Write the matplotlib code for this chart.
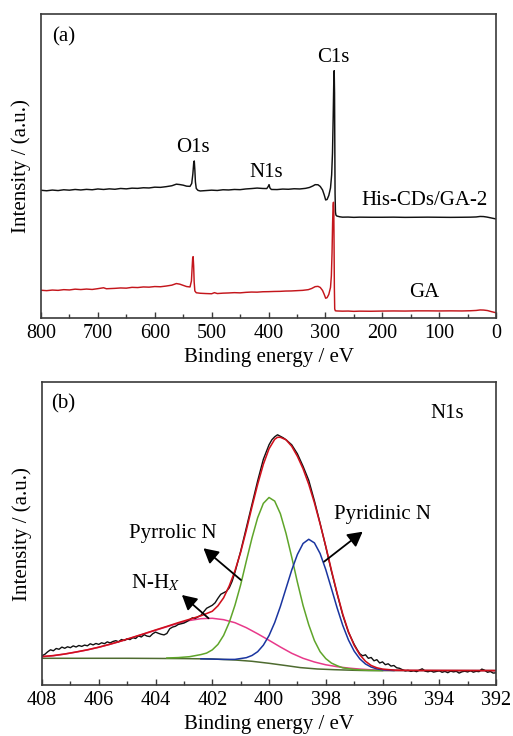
import matplotlib
matplotlib.use("Agg")
import matplotlib.pyplot as plt
from matplotlib.ticker import MultipleLocator

plt.rcParams['font.family'] = ['Liberation Serif', 'DejaVu Serif']
plt.rcParams['mathtext.fontset'] = 'stix'

# ---------------- Panel (a): XPS survey ----------------
survey_his_ev = [800, 790, 780, 770, 760, 750, 740, 730, 720, 710, 700, 690, 680, 670, 660, 650, 640, 630,
                 620, 610, 600, 590, 580, 570, 562, 556, 550, 544, 538, 535, 533, 531.5, 530.5, 529.5, 528.5,
                 527, 524, 520, 510, 500, 490, 480, 470, 460, 450, 440, 430, 420, 410, 403, 400.5, 399, 397.5,
                 395, 385, 375, 365, 355, 345, 335, 328, 322, 318, 313, 309, 305, 302, 299.5, 297, 294, 291,
                 289, 287.5, 286.3, 285.3, 284.5, 283.9, 283.4, 283, 282.3, 281.5, 280, 275, 270, 260, 250,
                 240, 220, 200, 180, 160, 140, 120, 100, 80, 60, 45, 35, 28, 22, 16, 10, 5, 0]
survey_his_int = [127.7, 127.2, 127.9, 127.4, 128.2, 127.8, 128.5, 128.0, 128.6, 128.2, 129.0, 128.5, 129.1,
                  128.7, 129.5, 129.1, 129.8, 129.6, 130.2, 130.0, 130.8, 130.6, 131.3, 132.2, 133.8, 133.4,
                  132.8, 131.8, 131.6, 134.5, 144.0, 155.0, 157.0, 148.0, 136.0, 129.5, 127.6, 127.0, 127.4,
                  127.8, 127.5, 128.2, 128.0, 128.5, 128.3, 129.0, 129.4, 129.9, 129.5, 129.4, 131.5, 133.3,
                  130.0, 128.5, 128.4, 128.9, 128.7, 129.2, 129.0, 129.6, 130.5, 132.0, 133.3, 133.2, 131.5,
                  128.0, 123.0, 118.0, 118.5, 122.5, 130.0, 143.0, 165.0, 200.0, 235.0, 247.3, 225.0, 170.0,
                  125.0, 106.0, 103.0, 102.0, 101.2, 100.8, 100.9, 100.6, 100.8, 100.7, 100.7, 100.8, 100.6,
                  100.7, 100.8, 100.7, 100.6, 100.7, 100.8, 101.0, 101.5, 101.4, 100.9, 100.2, 99.6, 99.0]

survey_ga_ev = [800, 790, 780, 770, 760, 750, 740, 730, 720, 710, 700, 690, 685, 670, 660, 650, 640, 630, 620,
                610, 600, 590, 580, 570, 562, 556, 550, 544, 538, 535.5, 534.3, 533.3, 532.5, 531.6, 530.7,
                529.5, 527, 520, 510, 500, 495, 490, 480, 470, 460, 450, 440, 430, 420, 410, 400, 390, 380,
                370, 360, 350, 340, 330, 324, 318, 313, 309, 305, 302, 299.5, 297, 294, 291, 289.5, 288.3,
                287.3, 286.5, 285.8, 285.2, 284.7, 284.2, 283.6, 282.5, 280, 270, 260, 250, 240, 220, 200,
                180, 160, 140, 120, 100, 80, 60, 45, 35, 28, 22, 15, 8, 0]
survey_ga_int = [27.7, 27.3, 27.9, 27.6, 28.3, 28.0, 28.8, 28.4, 28.9, 28.5, 29.3, 30.2, 29.2, 29.6, 30.0,
                 29.8, 30.6, 30.4, 31.0, 30.8, 31.4, 31.2, 31.9, 32.8, 34.4, 33.8, 32.6, 31.4, 31.0, 37.0,
                 50.0, 60.0, 61.3, 52.0, 36.0, 27.0, 25.2, 24.7, 24.4, 24.2, 25.3, 24.4, 24.8, 25.0, 25.3,
                 25.1, 25.6, 25.9, 25.8, 26.2, 26.3, 26.5, 26.6, 26.9, 27.0, 27.3, 27.6, 28.3, 29.5, 31.3,
                 31.6, 30.5, 27.5, 23.5, 19.7, 20.3, 23.5, 30.5, 42.0, 65.0, 95.0, 112.0, 115.7, 108.0, 70.0,
                 30.0, 9.0, 7.2, 7.0, 6.8, 6.9, 6.6, 6.8, 6.7, 6.9, 7.0, 6.9, 7.1, 7.1, 7.0, 7.1, 7.0, 7.2,
                 7.5, 8.0, 7.9, 7.4, 6.3, 5.2]

# ---------------- Panel (b): N1s high resolution ----------------
n1s_raw_ev = [408.0, 407.9, 407.8, 407.7, 407.6, 407.5, 407.4, 407.3, 407.2, 407.1, 407.0, 406.9, 406.8,
              406.7, 406.6, 406.5, 406.4, 406.3, 406.2, 406.1, 406.0, 405.9, 405.8, 405.7, 405.6, 405.5,
              405.4, 405.3, 405.2, 405.1, 405.0, 404.9, 404.8, 404.7, 404.6, 404.5, 404.4, 404.3, 404.2,
              404.1, 404.0, 403.9, 403.8, 403.7, 403.6, 403.5, 403.4, 403.3, 403.2, 403.1, 403.0, 402.9,
              402.8, 402.7, 402.6, 402.5, 402.4, 402.3, 402.2, 402.1, 402.0, 401.9, 401.8, 401.7, 401.6,
              401.5, 401.4, 401.3, 401.2, 401.0, 400.8, 400.6, 400.4, 400.2, 400.0, 399.9, 399.8, 399.7,
              399.6, 399.5, 399.4, 399.2, 399.0, 398.8, 398.6, 398.4, 398.2, 398.0, 397.8, 397.6, 397.4,
              397.2, 397.0, 396.9, 396.8, 396.7, 396.6, 396.5, 396.4, 396.3, 396.2, 396.1, 396.0, 395.9,
              395.8, 395.7, 395.6, 395.5, 395.4, 395.3, 395.2, 395.1, 395.0, 394.9, 394.8, 394.7, 394.6,
              394.5, 394.4, 394.3, 394.2, 394.1, 394.0, 393.9, 393.8, 393.7, 393.6, 393.5, 393.4, 393.3,
              393.2, 393.1, 393.0, 392.9, 392.8, 392.7, 392.6, 392.5, 392.4, 392.3, 392.2, 392.1, 392.0]
n1s_raw_int = [29.5, 31.0, 33.5, 35.5, 34.5, 36.8, 36.0, 38.2, 37.0, 38.5, 37.6, 39.4, 38.3, 39.8, 38.9,
               40.2, 39.5, 41.5, 40.4, 41.8, 40.9, 42.5, 41.6, 43.4, 42.4, 43.8, 44.6, 43.5, 45.8, 44.8,
               46.5, 45.7, 47.6, 46.8, 49.4, 48.3, 50.6, 49.2, 48.7, 51.5, 53.2, 52.0, 51.0, 50.4, 51.8,
               56.5, 58.2, 59.0, 60.8, 61.5, 62.2, 63.6, 65.5, 67.5, 66.8, 68.5, 70.0, 73.5, 77.0, 78.5,
               80.0, 82.5, 87.0, 91.0, 92.5, 94.0, 97.5, 104.0, 113.0, 134.0, 157.5, 181.0, 204.5, 226.0,
               240.5, 245.5, 248.5, 250.5, 249.0, 247.5, 245.5, 240.5, 231.5, 219.0, 205.0, 184.5, 162.0,
               138.5, 114.0, 91.5, 70.0, 53.0, 41.0, 36.0, 31.5, 29.5, 30.5, 27.0, 27.8, 24.5, 25.6, 22.3,
               23.4, 20.6, 21.5, 19.2, 19.8, 17.5, 17.0, 15.6, 14.4, 14.9, 13.9, 14.6, 13.6, 15.2, 16.5,
               14.2, 13.5, 14.4, 13.2, 13.8, 14.5, 13.0, 13.9, 12.6, 14.2, 13.4, 14.0, 12.2, 13.5, 14.1,
               13.3, 14.6, 13.1, 14.0, 13.6, 16.2, 15.0, 13.0, 13.8, 12.2, 12.5]

envelope_ev = [408.0, 407.6, 407.2, 406.8, 406.4, 406.0, 405.6, 405.2, 404.8, 404.4, 404.0, 403.6, 403.2,
               402.8, 402.4, 402.0, 401.8, 401.6, 401.4, 401.2, 401.0, 400.8, 400.6, 400.4, 400.2, 400.0,
               399.8, 399.7, 399.6, 399.4, 399.2, 399.0, 398.8, 398.6, 398.4, 398.2, 398.0, 397.8, 397.6,
               397.4, 397.2, 397.0, 396.8, 396.6, 396.4, 396.2, 396.0, 395.6, 395.0, 394.0, 392.0]
envelope_int = [28.7, 29.7, 31.3, 33.3, 35.5, 38.1, 41.1, 44.4, 48.0, 51.6, 55.3, 58.9, 62.6, 66.0, 69.5,
                74.0, 79.5, 87.5, 99.5, 114.5, 133.0, 155.0, 178.5, 201.0, 221.0, 236.5, 246.0, 248.0,
                248.0, 245.5, 239.0, 229.0, 216.5, 201.0, 182.5, 161.5, 139.0, 115.0, 92.0, 71.0, 53.5,
                40.0, 30.5, 24.0, 19.8, 17.5, 16.2, 15.2, 14.9, 14.8, 14.7]

pyrrolic_ev = [403.6, 403.2, 402.8, 402.4, 402.2, 402.0, 401.8, 401.6, 401.4, 401.2, 401.0, 400.8, 400.6,
               400.4, 400.2, 400.0, 399.8, 399.6, 399.4, 399.2, 399.0, 398.8, 398.6, 398.4, 398.2, 398.0,
               397.8, 397.6, 397.4, 397.0, 396.6, 396.0]
pyrrolic_int = [27.3, 27.7, 28.6, 30.7, 32.2, 35.4, 40.9, 49.9, 63.0, 80.1, 100.4, 124.2, 147.3, 167.6,
                181.9, 187.8, 184.2, 171.6, 151.8, 128.2, 103.1, 79.8, 60.5, 44.7, 33.6, 26.7, 22.2, 19.6,
                17.4, 15.8, 15.1, 14.7]

pyridinic_ev = [402.4, 401.6, 401.2, 400.8, 400.6, 400.4, 400.2, 400.0, 399.8, 399.6, 399.4, 399.2, 399.0,
                398.8, 398.6, 398.4, 398.2, 398.0, 397.8, 397.6, 397.4, 397.2, 397.0, 396.8, 396.6, 396.4,
                396.2, 396.0, 395.6]
pyridinic_int = [26.5, 25.9, 25.9, 27.6, 29.8, 33.6, 40.1, 49.7, 62.7, 78.8, 97.0, 115.2, 130.8, 141.8,
                 146.0, 142.4, 131.8, 115.7, 96.7, 77.4, 59.8, 45.3, 34.2, 26.4, 21.3, 18.2, 16.4, 15.5, 14.8]

nhx_ev = [408.0, 407.6, 407.2, 406.8, 406.4, 406.0, 405.6, 405.2, 404.8, 404.4, 404.0, 403.6, 403.2, 402.8,
          402.4, 402.0, 401.6, 401.2, 400.8, 400.4, 400.0, 399.6, 399.2, 398.8, 398.4, 398.0, 397.6, 397.2,
          396.8, 396.4, 396.0, 395.4, 392.0]
nhx_int = [28.6, 29.6, 31.2, 33.2, 35.4, 38.0, 41.0, 44.3, 47.8, 51.4, 55.0, 58.5, 62.0, 64.8, 66.6, 67.0,
           65.6, 62.6, 57.6, 51.5, 45.0, 38.3, 32.0, 27.0, 23.3, 20.5, 18.6, 17.2, 16.2, 15.5, 15.1, 14.8, 14.7]

background_ev = [408.0, 405.0, 403.0, 402.0, 401.2, 400.6, 400.0, 399.4, 398.9, 398.3, 397.7, 397.0, 396.5, 392.0]
background_int = [27.0, 27.0, 26.7, 26.3, 25.3, 24.0, 22.0, 19.7, 17.7, 16.3, 15.6, 15.0, 14.7, 14.7]

survey_ticks = [800, 700, 600, 500, 400, 300, 200, 100, 0]
n1s_ticks = [408, 406, 404, 402, 400, 398, 396, 394, 392]

# ---------------- Figure ----------------
fig = plt.figure(figsize=(5.13, 7.36), dpi=100)
axa = fig.add_axes([0.0799, 0.568, 0.887, 0.413])
axb = fig.add_axes([0.0819, 0.0689, 0.885, 0.4117])

spine_col = '#3a3a3a'
FS = 15

def style(ax):
    for s in ax.spines.values():
        s.set_color(spine_col)
        s.set_linewidth(1.2)
    ax.tick_params(axis='x', which='both', direction='in', top=False, bottom=True,
                   color=spine_col, labelsize=14.5, pad=4)
    ax.tick_params(axis='x', which='major', length=4.5, width=1.0)
    ax.tick_params(axis='x', which='minor', length=2.8, width=1.0)
    ax.tick_params(axis='y', which='both', left=False, right=False, labelleft=False)
    ax.set_ylabel('Intensity / (a.u.)', fontsize=FS, labelpad=7)
    ax.set_xlabel('Binding energy / eV', fontsize=FS, labelpad=4)

# Panel (a)
axa.plot(survey_his_ev, survey_his_int, color='#111111', lw=1.05)
axa.plot(survey_ga_ev, survey_ga_int, color='#c4161c', lw=1.05)
axa.set_xlim(800, 0)
axa.set_ylim(0, 304)
axa.set_xticks(survey_ticks)
axa.xaxis.set_minor_locator(MultipleLocator(50))
style(axa)
axa.text(0.024, 0.925, '(a)', transform=axa.transAxes, fontsize=FS, va='center', ha='left')
axa.text(286.6, 260, 'C1s', fontsize=FS, ha='center', va='center')
axa.text(532.7, 170, 'O1s', fontsize=FS, ha='center', va='center')
axa.text(404.4, 145, 'N1s', fontsize=FS, ha='center', va='center')
axa.text(126.6, 117.3, 'His-CDs/GA-2', fontsize=FS, ha='center', va='center')
axa.text(126.6, 25, 'GA', fontsize=FS, ha='center', va='center')

# Panel (b)
axb.plot(background_ev, background_int, color='#4e6b30', lw=1.1)
axb.plot(nhx_ev, nhx_int, color='#e8398a', lw=1.1)
axb.plot(pyrrolic_ev, pyrrolic_int, color='#5fa52a', lw=1.1)
axb.plot(pyridinic_ev, pyridinic_int, color='#1a35a0', lw=1.1)
axb.plot(n1s_raw_ev, n1s_raw_int, color='#111111', lw=1.0)
axb.plot(envelope_ev, envelope_int, color='#d0101c', lw=1.15)
axb.set_xlim(408, 392)
axb.set_ylim(0, 303)
axb.set_xticks(n1s_ticks)
axb.xaxis.set_minor_locator(MultipleLocator(1))
style(axb)
axb.text(0.02, 0.93, '(b)', transform=axb.transAxes, fontsize=FS, va='center', ha='left')
axb.text(393.71, 272, 'N1s', fontsize=FS, ha='center', va='center')

arrow = dict(arrowstyle='-|>,head_length=0.55,head_width=0.3', color='black', lw=1.3,
             mutation_scale=16, shrinkA=0, shrinkB=0)
axb.text(403.39, 151.3, 'Pyrrolic N', fontsize=FS, ha='center', va='center')
axb.annotate('', xy=(402.31, 137), xytext=(400.99, 105.3), arrowprops=arrow)
axb.text(396.0, 170.3, 'Pyridinic N', fontsize=FS, ha='center', va='center')
axb.annotate('', xy=(396.70, 153.6), xytext=(398.06, 123.6), arrowprops=arrow)
axb.text(404.01, 102, r'N-H$_{X}$', fontsize=FS, ha='center', va='center')
axb.annotate('', xy=(403.07, 90.3), xytext=(402.13, 67), arrowprops=arrow)

fig.savefig('out.png', dpi=100)
